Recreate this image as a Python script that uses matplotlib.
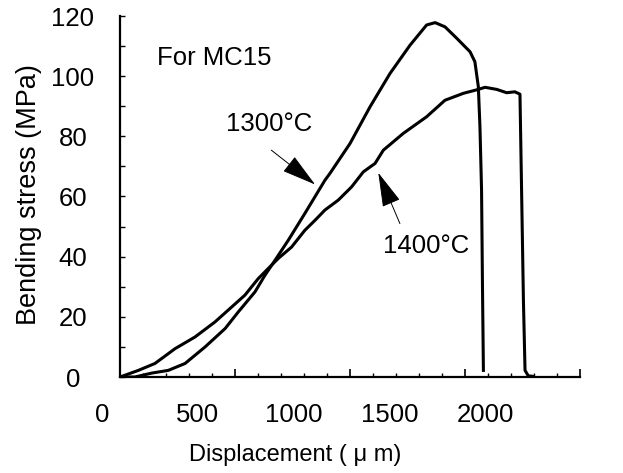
import matplotlib
matplotlib.use('Agg')
import matplotlib.pyplot as plt
from matplotlib.ticker import MultipleLocator

# displacement (um) / bending stress (MPa)
disp_1300 = [0, 65, 138, 210, 283, 370, 457, 514, 587, 630, 674, 732, 804,
             891, 913, 1000, 1087, 1174, 1261, 1333, 1370, 1413, 1464, 1522,
             1543, 1558, 1565, 1572, 1576, 1580]
stress_1300 = [0, 0, 1.3, 2.2, 4.5, 10.0, 16.1, 21.6, 28.3, 33.8, 38.8, 45.5,
               54.4, 65.4, 67.7, 77.6, 89.8, 100.9, 110.3, 117.0, 117.8,
               116.4, 112.6, 108.1, 104.8, 96.5, 83.2, 62.1, 30.0, 2.2]

disp_1400 = [0, 80, 152, 239, 326, 413, 486, 543, 601, 645, 688, 746, 804,
             848, 891, 949, 1007, 1058, 1109, 1145, 1232, 1333, 1413, 1493,
             1558, 1587, 1638, 1681, 1717, 1739, 1746, 1754, 1761, 1775, 1797]
stress_1400 = [0, 2.2, 4.5, 9.4, 13.3, 18.3, 23.3, 27.2, 32.7, 36.1, 39.4,
               43.2, 48.8, 52.1, 55.5, 58.8, 63.2, 68.2, 71.0, 75.4, 81.0,
               86.5, 92.0, 94.3, 95.6, 96.3, 95.6, 94.5, 94.8, 94.0, 62.1,
               25.5, 2.2, 0.4, 0.2]

xtick_vals = [0, 500, 1000, 1500, 2000]
ytick_vals = [0, 20, 40, 60, 80, 100, 120]

font = ['Liberation Sans', 'DejaVu Sans']

fig = plt.figure(figsize=(6.23, 4.73), dpi=100)
ax = fig.add_axes([120/623, 1 - 377/473, 460/623, 361/473])

ax.plot(disp_1300, stress_1300, color='black', lw=2.2)
ax.plot(disp_1400, stress_1400, color='black', lw=2.2)

ax.set_xlim(0, 2000)
ax.set_ylim(0, 120)
for s in ('top', 'right'):
    ax.spines[s].set_visible(False)
for s in ('left', 'bottom'):
    ax.spines[s].set_linewidth(1.6)

ax.xaxis.set_major_locator(MultipleLocator(500))
ax.xaxis.set_minor_locator(MultipleLocator(100))
ax.yaxis.set_minor_locator(MultipleLocator(10))
ax.tick_params(axis='x', which='major', direction='in', length=5.5, width=1.2,
               labelbottom=False)
ax.tick_params(axis='x', which='minor', direction='in', length=3, width=1.0)
ax.tick_params(axis='y', which='both', direction='in', length=3.6, width=1.0)
ax.tick_params(axis='y', which='major', pad=34)
ax.set_yticks(ytick_vals)
ax.set_yticklabels([str(v) for v in ytick_vals], family=font, fontsize=18.5,
                   ha='center')

# the x tick labels in the original sit on a compressed spacing,
# so they are placed as text rather than on the ticks
for v in xtick_vals:
    ax.text(v * 0.834 - 78, -0.072, str(v), transform=ax.get_xaxis_transform(),
            family=font, fontsize=18.5, ha='center', va='top', clip_on=False)

ax.set_xlabel('Displacement ( μ m)', family=font, fontsize=17)
ax.xaxis.set_label_coords(0.38, -0.185)
ax.set_ylabel('Bending stress (MPa)', family=font, fontsize=19.5)
ax.yaxis.set_label_coords(-0.17, 0.504)

ax.text(161, 106, 'For MC15', family=font, fontsize=18.5, va='center')
ax.text(648, 84, '1300°C', family=font, fontsize=18.5, ha='center', va='center')
ax.text(1330, 43.6, '1400°C', family=font, fontsize=18.5, ha='center', va='center')

arrow = dict(arrowstyle='-|>,head_length=1.1,head_width=0.3', color='black',
             lw=0.7, shrinkA=0, shrinkB=0, mutation_scale=20)
ax.annotate('', xy=(848, 64.0), xytext=(658, 75.4), arrowprops=arrow)
ax.annotate('', xy=(1123, 67.9), xytext=(1217, 51.0), arrowprops=arrow)

fig.savefig('out.png', dpi=100)
